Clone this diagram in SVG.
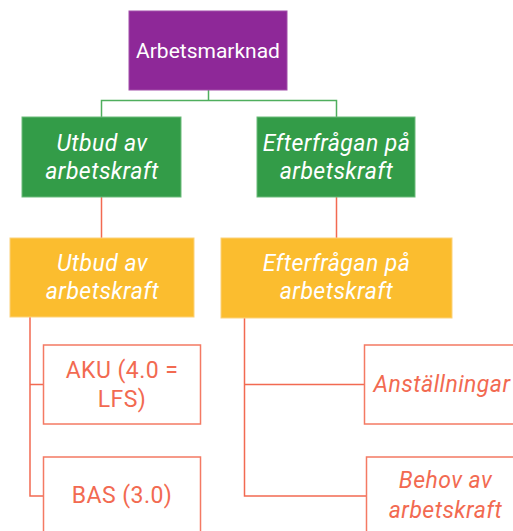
<svg xmlns="http://www.w3.org/2000/svg" width="513" height="531" viewBox="0 0 513 531">
<style>
text{font-family:Roboto,"Liberation Sans",sans-serif;text-anchor:middle}
.w{fill:#ffffff;font-size:23px;letter-spacing:0.45px}
.t{font-size:21px;letter-spacing:0}
.i{font-style:italic}
.r{fill:#f26a51;font-size:23px;letter-spacing:0.45px}
.ob{fill:#ffffff;stroke:#f47a63;stroke-width:1.5}
.gl{stroke:#4fae5e;stroke-width:1.5;fill:none}
.rl{stroke:#f26a51;stroke-width:1.5;fill:none}
</style>
<rect width="513" height="531" fill="#ffffff"/>
<g id="connectors">
<path class="gl" d="M208.5 90V100.5M101.5 117V100.5H336.5V117"/>
<path class="rl" d="M101.5 197V238M336.5 197V238"/>
<path class="rl" d="M30 317V496H43M30 384.5H43"/>
<path class="rl" d="M244.5 318V496H366M244.5 384.5H364"/>
</g>
<g id="n-arbetsmarknad">
<rect x="129" y="11" width="158" height="79" fill="#8e2898" stroke="#a24ea9" stroke-width="1"/>
<text class="w t" x="208" y="58">Arbetsmarknad</text>
</g>
<g id="n-utbud1">
<rect x="22" y="117" width="159" height="80" fill="#339c48" stroke="#6cbb7a" stroke-width="1"/>
<text class="w i" x="102" y="151">Utbud av</text>
<text class="w i" x="102" y="179">arbetskraft</text>
</g>
<g id="n-efter1">
<rect x="257" y="117" width="158" height="80" fill="#339c48" stroke="#6cbb7a" stroke-width="1"/>
<text class="w i" x="336.5" y="151">Efterfrågan på</text>
<text class="w i" x="336.5" y="179">arbetskraft</text>
</g>
<g id="n-utbud2">
<rect x="10" y="238" width="184" height="79" fill="#fbbd2f" stroke="#fcd27a" stroke-width="1"/>
<text class="w i" x="102.5" y="271">Utbud av</text>
<text class="w i" x="102.5" y="299">arbetskraft</text>
</g>
<g id="n-efter2">
<rect x="221" y="238" width="231" height="80" fill="#fbbd2f" stroke="#fcd27a" stroke-width="1"/>
<text class="w i" x="336.5" y="271">Efterfrågan på</text>
<text class="w i" x="336.5" y="299">arbetskraft</text>
</g>
<g id="n-aku">
<rect class="ob" x="43.5" y="345" width="157" height="79"/>
<text class="r" x="122" y="378">AKU (4.0 =</text>
<text class="r" x="122" y="407">LFS)</text>
</g>
<g id="n-bas">
<rect class="ob" x="43.5" y="457" width="157" height="90"/>
<text class="r" x="122" y="503">BAS (3.0)</text>
</g>
<g id="n-anst">
<rect class="ob" x="364.5" y="345" width="170" height="79"/>
<text class="r i" x="442" y="392">Anställningar</text>
</g>
<g id="n-behov">
<rect class="ob" x="366.5" y="457" width="170" height="90"/>
<text class="r i" x="445.5" y="488">Behov av</text>
<text class="r i" x="445.5" y="518">arbetskraft</text>
</g>
</svg>
